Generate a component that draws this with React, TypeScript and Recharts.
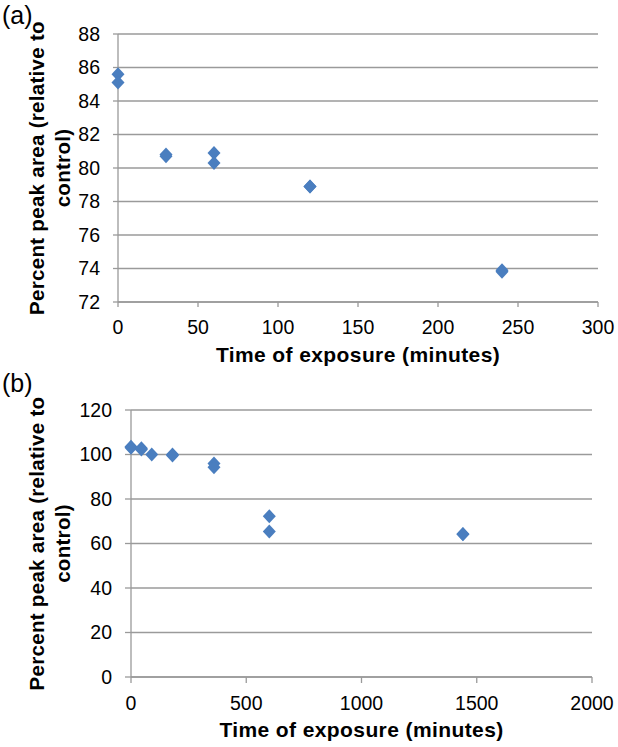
import { ScatterChart, Scatter, XAxis, YAxis, CartesianGrid } from 'recharts';

// panel (a): short exposure
const timeA = [0, 0, 30, 30, 60, 60, 120, 120, 240, 240];
const peakA = [85.6, 85.1, 80.8, 80.7, 80.9, 80.3, 78.9, 78.9, 73.9, 73.8];
const xTicksA = [0, 50, 100, 150, 200, 250, 300];
const yTicksA = [72, 74, 76, 78, 80, 82, 84, 86, 88];

// panel (b): long exposure
const timeB = [0, 0, 45, 45, 90, 180, 180, 360, 360, 600, 600, 1440, 1440];
const peakB = [103.5, 103.0, 102.8, 102.3, 100.0, 100.0, 99.5, 96.0, 94.3, 72.3, 65.4, 64.3, 64.2];
const xTicksB = [0, 500, 1000, 1500, 2000];
const yTicksB = [0, 20, 40, 60, 80, 100, 120];

const yTitle = ['Percent peak area (relative to', 'control)'];
const xTitle = 'Time of exposure (minutes)';

const FONT = '"Liberation Sans", Arial, Helvetica, sans-serif';
const GRID = '#9a9a9a';
const BLUE = '#4a7ebf';

const toRows = (xs: number[], ys: number[]) => xs.map((x, i) => ({ x, y: ys[i] }));

const Diamond = (props: any) => {
  const { cx, cy } = props;
  if (cx == null || cy == null) return null;
  return (
    <polygon
      points={`${cx},${cy - 7} ${cx + 6.5},${cy} ${cx},${cy + 7} ${cx - 6.5},${cy}`}
      fill={BLUE}
    />
  );
};

function YTitle({ viewBox }: any) {
  const cy = viewBox.y + viewBox.height / 2;
  return (
    <g>
      {yTitle.map((line, i) => {
        const x = 44 + i * 26;
        return (
          <text
            key={i}
            x={x}
            y={cy}
            transform={`rotate(-90, ${x}, ${cy})`}
            textAnchor="middle"
            fontFamily={FONT}
            fontWeight="bold"
            fontSize={20.5}
            letterSpacing={0.3}
            fill="#000"
          >
            {line}
          </text>
        );
      })}
    </g>
  );
}

function XTitle({ viewBox }: any) {
  return (
    <text
      x={viewBox.x + viewBox.width / 2}
      y={viewBox.y + 60}
      textAnchor="middle"
      fontFamily={FONT}
      fontWeight="bold"
      fontSize={21}
      letterSpacing={0.4}
      fill="#000"
    >
      {xTitle}
    </text>
  );
}

type PanelProps = {
  rows: { x: number; y: number }[];
  xTicks: number[];
  yTicks: number[];
  height: number;
  top: number;
  yWidth: number;
  right: number;
  xHeight: number;
  tickLen: number;
};

function Panel({ rows, xTicks, yTicks, height, top, yWidth, right, xHeight, tickLen }: PanelProps) {
  const tick = { fill: '#000', fontSize: 19.5, fontFamily: FONT };
  return (
    <ScatterChart
      width={618}
      height={height}
      margin={{ top, right, bottom: 0, left: 0 }}
    >
      <CartesianGrid vertical={false} stroke={GRID} strokeWidth={1.3} />
      <XAxis
        type="number"
        dataKey="x"
        domain={[xTicks[0], xTicks[xTicks.length - 1]]}
        ticks={xTicks}
        height={xHeight}
        stroke={GRID}
        strokeWidth={1.3}
        tickSize={tickLen}
        tickMargin={13}
        tick={tick}
        label={<XTitle />}
      />
      <YAxis
        type="number"
        dataKey="y"
        domain={[yTicks[0], yTicks[yTicks.length - 1]]}
        ticks={yTicks}
        width={yWidth}
        stroke={GRID}
        strokeWidth={1.3}
        tickSize={tickLen}
        tickMargin={13}
        tick={tick}
        label={<YTitle />}
      />
      <Scatter data={rows} shape={<Diamond />} isAnimationActive={false} />
    </ScatterChart>
  );
}

export default function App() {
  return (
    <div
      style={{
        position: 'absolute',
        left: 0,
        top: 0,
        width: 618,
        height: 747,
        background: '#fff',
        fontFamily: FONT,
      }}
    >
      <div style={{ position: 'absolute', left: 0, top: 0, width: 618, height: 375 }}>
        <Panel
          rows={toRows(timeA, peakA)}
          xTicks={xTicksA}
          yTicks={yTicksA}
          height={375}
          top={34}
          yWidth={118}
          right={20}
          xHeight={73}
          tickLen={5}
        />
      </div>
      <div style={{ position: 'absolute', left: 0, top: 375, width: 618, height: 372 }}>
        <Panel
          rows={toRows(timeB, peakB)}
          xTicks={xTicksB}
          yTicks={yTicksB}
          height={372}
          top={35}
          yWidth={131}
          right={26}
          xHeight={70}
          tickLen={6}
        />
      </div>
      <div style={{ position: 'absolute', left: 2, top: -1, fontSize: 25, lineHeight: '32px' }}>(a)</div>
      <div style={{ position: 'absolute', left: 2, top: 367, fontSize: 25, lineHeight: '32px' }}>(b)</div>
    </div>
  );
}
